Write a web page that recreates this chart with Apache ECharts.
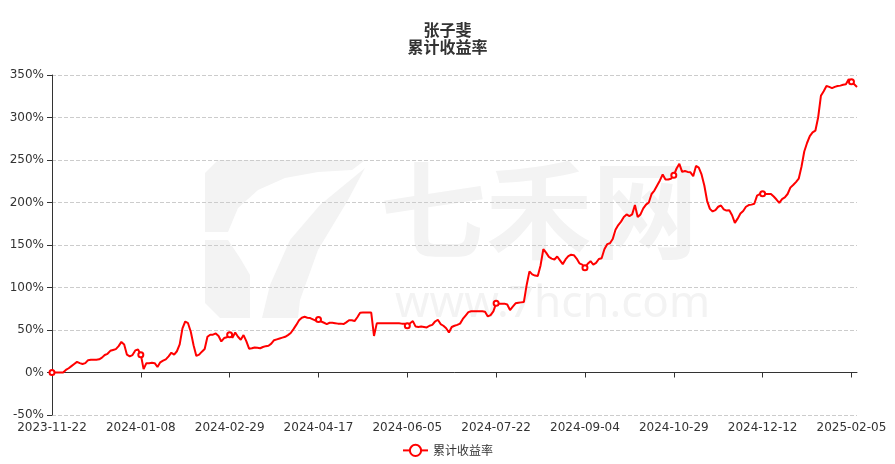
<!DOCTYPE html>
<html>
<head>
<meta charset="utf-8">
<script src="https://cdn.jsdelivr.net/npm/echarts@6/dist/echarts.min.js"></script>
<style>html,body{margin:0;padding:0;background:#fff;}#c{width:895px;height:464px;}</style>
</head>
<body>
<div id="c"></div>
<script>
// Trading days per month (Chinese exchange calendar)
const tradingDays = {
  "2023-11": [22,23,24,27,28,29,30],
  "2023-12": [1,4,5,6,7,8,11,12,13,14,15,18,19,20,21,22,25,26,27,28,29],
  "2024-01": [2,3,4,5,8,9,10,11,12,15,16,17,18,19,22,23,24,25,26,29,30,31],
  "2024-02": [1,2,5,6,7,8,19,20,21,22,23,26,27,28,29],
  "2024-03": [1,4,5,6,7,8,11,12,13,14,15,18,19,20,21,22,25,26,27,28,29],
  "2024-04": [1,2,3,8,9,10,11,12,15,16,17,18,19,22,23,24,25,26,29,30],
  "2024-05": [6,7,8,9,10,13,14,15,16,17,20,21,22,23,24,27,28,29,30,31],
  "2024-06": [3,4,5,6,7,11,12,13,14,17,18,19,20,21,24,25,26,27,28],
  "2024-07": [1,2,3,4,5,8,9,10,11,12,15,16,17,18,19,22,23,24,25,26,29,30,31],
  "2024-08": [1,2,5,6,7,8,9,12,13,14,15,16,19,20,21,22,23,26,27,28,29,30],
  "2024-09": [2,3,4,5,6,9,10,11,12,13,18,19,20,23,24,25,26,27,30],
  "2024-10": [8,9,10,11,14,15,16,17,18,21,22,23,24,25,28,29,30,31],
  "2024-11": [1,4,5,6,7,8,11,12,13,14,15,18,19,20,21,22,25,26,27,28,29],
  "2024-12": [2,3,4,5,6,9,10,11,12,13,16,17,18,19,20,23,24,25,26,27,30,31],
  "2025-01": [2,3,6,7,8,9,10,13,14,15,16,17,20,21,22,23,24,27],
  "2025-02": [5,6,7]
};
const categories = [];
Object.keys(tradingDays).forEach(function (m) {
  tradingDays[m].forEach(function (d) { categories.push(m + '-' + (d < 10 ? '0' + d : '' + d)); });
});

// Cumulative return (%)
const cumReturn = [
  0,0,0,0,0,3,5,7.5,10,12.5,
  11,10,11,14.5,15,15,15,15.5,17.5,20.6,
  22,25.5,26.5,27.5,31,36,33,21,19,20.5,
  26,27,21,4,11,11,11.5,11,6.5,12,
  14,15.5,19,23.3,21,25,33,52,60,58,
  48,32,19.5,21,24.5,27.6,42,44.5,44.5,46,
  43,36.5,40.5,41.5,44.5,41,47,42,38.5,44,
  37,28,28.5,29.5,29,28.5,30,31,31.5,34,
  38,39,40,41,42,44,46.5,51,56,61.5,
  64.5,65.5,64.5,64,62.5,61,62.5,60,58.5,57,
  58.5,58.5,58,57.5,57.5,57,59,61.5,61.5,60.5,
  65,70.4,70.5,70.5,70.5,70.5,43,57.8,58,58,
  58,58,58,58,58,57.8,57.5,57.5,55,58,
  60.5,54,53.5,54,53.5,53,55,56,60,62,
  57,55,52,47,53.5,55,56,57.5,63,67,
  71,72,72,72,72,72,71.5,66,67.5,72,
  81.4,81,81,81,80,73.5,77.5,81.4,82,82.5,
  83,103,119,115.5,114,113.5,126,145,141,136,
  134,133,136.5,132,127.5,133,137,138.5,138,134,
  128.4,127,123.3,128,131,127,129,133.5,134.5,145,
  151,152,157,168,173.5,177.5,183,186,184,186,
  197,183,186,193,197.5,200,210,214,220,226,
  233,227,227,228,232,240,245.5,236,237,236,
  235.5,231,243,241,233,220,202,192.5,189.5,191,
  195,196.5,192,190.5,191,185,176,181,187,190,
  195,197,197.5,198.5,208,210,210.4,210,210,210,
  207,203.5,199.5,204,206,210,217.5,220.6,224,228,
  242,260,270,278,282.5,284.5,300,325.5,331,337,
  336,334.5,336,337,337.5,338.5,339,345,342,339,
  336
];

const yTicks = { min: -50, max: 350, interval: 50 };
const seriesName = '累计收益率';
const titleText = '张子斐';
const wm = '#f3f3f3';

const chart = echarts.init(document.getElementById('c'), null, { renderer: 'canvas' });
chart.setOption({
  backgroundColor: '#fff',
  animation: false,
  title: {
    text: titleText,
    subtext: seriesName,
    left: 'center',
    top: 17,
    itemGap: 1,
    textStyle: { fontSize: 16, fontWeight: 'bold', color: '#333', fontFamily: 'Noto Sans CJK SC' },
    subtextStyle: { fontSize: 16, fontWeight: 'bold', color: '#333', fontFamily: 'Noto Sans CJK SC' }
  },
  graphic: [
    { type: 'polygon', z: -10, silent: true,
      shape: { points: [[218,160],[365,160],[352,170],[318,172],[285,178],[258,190],[238,208],[228,232],[205,232],[205,173]] },
      style: { fill: wm } },
    { type: 'polygon', z: -10, silent: true,
      shape: { points: [[205,240],[228,240],[240,258],[250,275],[250,318],[220,318],[205,303]] },
      style: { fill: wm } },
    { type: 'polygon', z: -10, silent: true,
      shape: { points: [[365,168],[348,200],[318,250],[300,300],[298,318],[262,318],[270,285],[290,240],[320,205]] },
      style: { fill: wm } },
    { type: 'text', left: 380, top: 157, z: -10, silent: true,
      style: { text: '七禾网', fontSize: 106, fontWeight: 'bold', fontFamily: 'Noto Sans CJK SC', fill: wm } },
    { type: 'text', left: 395, top: 282, z: -10, silent: true,
      style: { text: 'www.7hcn.com', fontSize: 44, fontFamily: 'Noto Sans', fill: wm } }
  ],
  legend: {
    bottom: 2,
    left: 'center',
    data: [seriesName],
    textStyle: { color: '#333', fontSize: 12, fontFamily: 'Noto Sans CJK SC' },
    itemWidth: 25,
    itemHeight: 14
  },
  grid: { left: 52, right: 38, top: 75, bottom: 49, containLabel: false, outerBoundsMode: 'none' },
  xAxis: {
    type: 'category',
    boundaryGap: false,
    data: categories,
    axisLine: { onZero: true, lineStyle: { color: '#333' } },
    axisTick: { show: true, interval: 31, lineStyle: { color: '#333' } },
    axisLabel: { interval: 31, margin: 7, color: '#333', fontSize: 12, fontFamily: 'DejaVu Sans' },
    splitLine: { show: false }
  },
  yAxis: {
    type: 'value',
    min: yTicks.min,
    max: yTicks.max,
    interval: yTicks.interval,
    axisLine: { show: true, lineStyle: { color: '#333' } },
    axisTick: { show: true, lineStyle: { color: '#333' } },
    axisLabel: { formatter: '{value}%', color: '#333', fontSize: 12, fontFamily: 'DejaVu Sans' },
    splitLine: { show: true, lineStyle: { type: 'dashed', color: '#ccc' } }
  },
  series: [{
    name: seriesName,
    type: 'line',
    data: cumReturn,
    symbol: 'emptyCircle',
    symbolSize: 5,
    showAllSymbol: 'auto',
    itemStyle: { color: '#ff0000', borderWidth: 1 },
    lineStyle: { color: '#ff0000', width: 2 }
  }]
});
</script>
</body>
</html>
